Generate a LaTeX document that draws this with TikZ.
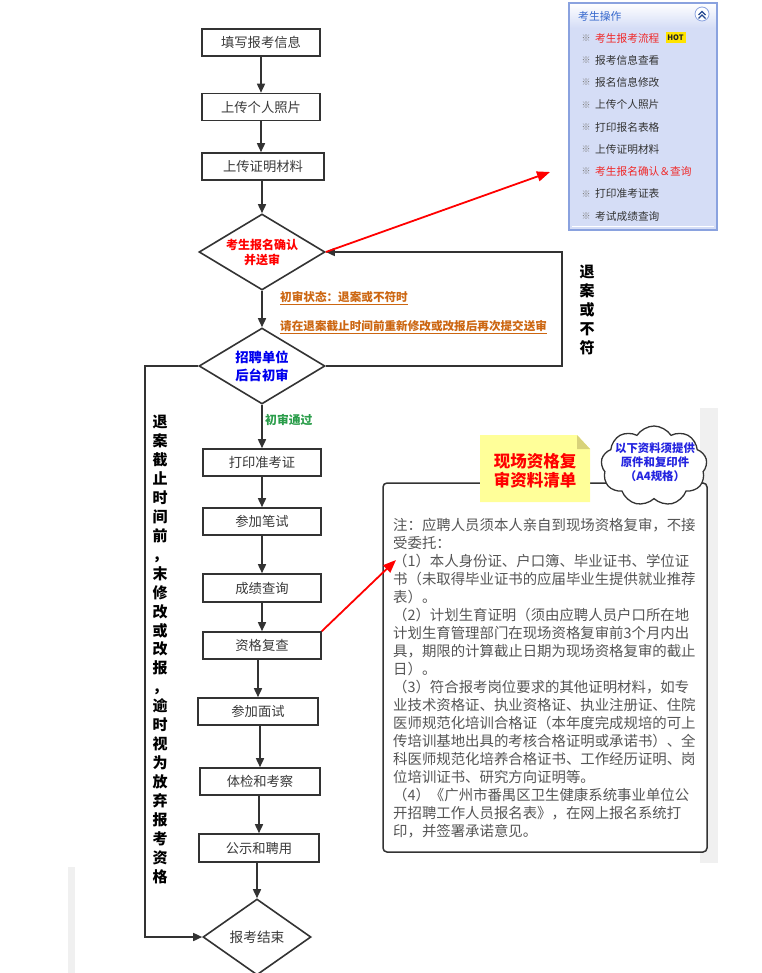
\documentclass[tikz,border=0pt]{standalone}
\usepackage{fontspec}
\setmainfont{Noto Sans CJK SC}
\usetikzlibrary{arrows.meta,shapes.geometric,shapes.symbols,calc}
\definecolor{lc}{HTML}{333333}
\definecolor{boxtxt}{HTML}{3A3A3A}
\definecolor{notetxt}{HTML}{555555}
\definecolor{orangelbl}{HTML}{CC6611}
\definecolor{greenlbl}{HTML}{2A9D4A}
\definecolor{bluelbl}{HTML}{0000EE}
\definecolor{cloudblue}{HTML}{2424E0}
\definecolor{panelbody}{HTML}{D5DDF6}
\definecolor{panelborder}{HTML}{8AA2DF}
\definecolor{panelhead}{HTML}{3366CC}
\definecolor{pred}{HTML}{F02828}
\definecolor{ptxt}{HTML}{333333}
\definecolor{stripgray}{HTML}{F0F0F0}
\definecolor{noteyellow}{HTML}{FFFF99}
\definecolor{notefold}{HTML}{D8D27A}
\definecolor{hotyellow}{HTML}{FFE400}
\begin{document}
\begin{tikzpicture}[x=1pt,y=-1pt,
  box/.style={draw=lc, line width=1.6pt, fill=white, minimum width=118pt, minimum height=27pt, inner sep=0pt, font=\fontsize{13.3}{16}\selectfont, text=boxtxt},
  dia/.style={draw=lc, line width=1.6pt, fill=white, diamond, aspect=1.66, inner sep=0pt, minimum width=126pt, minimum height=76pt, align=center},
  arr/.style={draw=lc, line width=1.6pt, -{Triangle[length=9pt,width=8pt]}},
  redarr/.style={draw=red, line width=1.8pt, -{Triangle[length=13pt,width=10pt]}},
  vtext/.style={align=center, inner sep=0pt, font=\fontsize{15}{18.96}\selectfont\bfseries, text=black},
  lbl/.style={anchor=west, inner sep=0pt, font=\fontsize{11.6}{14}\selectfont\bfseries},
  pitem/.style={anchor=west, inner sep=0pt, font=\fontsize{10.7}{13}\selectfont},
  pmark/.style={inner sep=0pt, font=\fontsize{9}{11}\selectfont, text=gray}
]
\useasboundingbox (0,0) rectangle (761,973);
\fill[white] (0,0) rectangle (761,973);

% gray strips
\fill[stripgray] (700,408) rectangle (718,863);
\fill[stripgray] (68,867) rectangle (75,973);

% ---------------- flow chart ----------------
\node[box] (b1) at (261,42.5) {填写报考信息};
\node[box] (b2) at (261,107) {上传个人照片};
\node[box, minimum width=122pt] (b3) at (263,166.5) {上传证明材料};
\node[dia, font=\fontsize{12}{15}\selectfont\bfseries, text=red] (d1) at (262,252) {考生报名确认\\并送审};
\node[dia, font=\fontsize{13.3}{18}\selectfont\bfseries, text=bluelbl] (d2) at (262,366) {招聘单位\\后台初审};
\node[box] (b4) at (262,462.5) {打印准考证};
\node[box] (b5) at (262,521.5) {参加笔试};
\node[box, minimum height=28pt] (b6) at (262,588) {成绩查询};
\node[box] (b7) at (262,645.5) {资格复查};
\node[box, minimum width=120pt] (b8) at (258,711.5) {参加面试};
\node[box, minimum width=120pt] (b9) at (260,781.5) {体检和考察};
\node[box, minimum width=120pt, minimum height=28pt] (b10) at (259,848) {公示和聘用};
\node[dia, minimum width=108pt, minimum height=76pt, aspect=1.42, font=\fontsize{13.7}{16}\selectfont, text=boxtxt] (d3) at (257,937) {报考结束};

\draw[arr] (b1.south) -- (b1.south |- b2.north);
\draw[arr] (b2.south) -- (b2.south |- b3.north);
\draw[arr] (b3.south -| d1.north) -- (d1.north);
\draw[arr] (d1.south) -- (d2.north);
\draw[arr] (d2.south) -- (b4.north);
\draw[arr] (b4.south) -- (b5.north);
\draw[arr] (b5.south) -- (b6.north);
\draw[arr] (b6.south) -- (b7.north);
\draw[arr] (b7.south -| b8.north) -- (b8.north);
\draw[arr] (b8.south -| b9.north) -- (b9.north);
\draw[arr] (b9.south -| b10.north) -- (b10.north);
\draw[arr] (b10.south -| d3.north) -- (d3.north);

% loops
\coordinate (rloop) at (562,366);
\draw[arr] (d2.east) -- (rloop) |- (d1.east);
\coordinate (lloop) at (145,366);
\draw[arr] (d2.west) -- (lloop) |- (d3.west);

% labels
\node[lbl, text=orangelbl] (s1) at (280,298) {\underline{初审状态：退案或不符时}};
\node[lbl, text=orangelbl] (s2) at (280,327) {\underline{请在退案截止时间前重新修改或改报后再次提交送审}};
\node[lbl, font=\fontsize{11.8}{14}\selectfont\bfseries, text=greenlbl] (s3) at (265,420) {初审通过};

\node[vtext] (vr) at (587,310) {退\\案\\或\\不\\符};
\node[vtext] (vl) at (160,649.5) {退\\案\\截\\止\\时\\间\\前\\，\\末\\修\\改\\或\\改\\报\\，\\逾\\时\\视\\为\\放\\弃\\报\\考\\资\\格};

% ---------------- panel ----------------
\fill[panelbody] (569,3) rectangle (717,230);
\shade[top color=white, bottom color=panelbody] (569,3) rectangle (717,28);
\draw[panelborder, line width=2pt] (569,3) rectangle (717,230);
\draw[white, line width=1pt] (572,226.5) -- (714,226.5);
\node[anchor=west, inner sep=0pt, font=\fontsize{10.8}{13}\selectfont, text=panelhead] (ph) at (578,16) {考生操作};
\node[circle, draw=panelborder, fill=white, minimum size=14pt, inner sep=0pt, line width=0.8pt] (pbtn) at (702,14) {};
\draw[panelhead!70!black, line width=1.2pt] ($(pbtn)+(-3.5,1)$) -- ($(pbtn)+(0,-2.5)$) -- ($(pbtn)+(3.5,1)$);
\draw[panelhead!70!black, line width=1.2pt] ($(pbtn)+(-3.5,4.5)$) -- ($(pbtn)+(0,1)$) -- ($(pbtn)+(3.5,4.5)$);
\foreach \t/\c [count=\i] in {考生报考流程/pred, 报考信息查看/ptxt, 报名信息修改/ptxt, 上传个人照片/ptxt, 打印报名表格/ptxt, 上传证明材料/ptxt, 考生报名确认＆查询/pred, 打印准考证表/ptxt, 考试成绩查询/ptxt}{
  \node[pmark] (mk\i) at (586,{38+(\i-1)*22.25}) {※};
  \node[pitem, text=\c] (item\i) at (595,{38+(\i-1)*22.25}) {\t};
}
\node[fill=hotyellow, inner sep=0pt, minimum width=20pt, minimum height=11pt, font=\fontsize{7.5}{8}\selectfont\bfseries, text=black!85] (hot) at (675.5,38) {HOT};
\coordinate (ptarget) at (550,172);
\draw[redarr] (d1.east) -- (ptarget);

% ---------------- notes box ----------------
\draw[lc, line width=1.5pt, fill=white, rounded corners=4pt] (383,483) rectangle (707,852);
\node[anchor=north west, inner sep=0pt, align=left, font=\fontsize{14.4}{18}\selectfont, text=notetxt] (notes) at (393,518) {注：应聘人员须本人亲自到现场资格复审，不接\\
受委托：\\
（1）本人身份证、户口簿、毕业证书、学位证\\
书（未取得毕业证书的应届毕业生提供就业推荐\\
表）。\\
（2）计划生育证明（须由应聘人员户口所在地\\
计划生育管理部门在现场资格复审前3个月内出\\
具，期限的计算截止日期为现场资格复审的截止\\
日）。\\
（3）符合报考岗位要求的其他证明材料，如专\\
业技术资格证、执业资格证、执业注册证、住院\\
医师规范化培训合格证（本年度完成规培的可上\\
传培训基地出具的考核合格证明或承诺书）、全\\
科医师规范化培养合格证书、工作经历证明、岗\\
位培训证书、研究方向证明等。\\
（4）《广州市番禺区卫生健康系统事业单位公\\
开招聘工作人员报名表》，在网上报名系统打\\
印，并签署承诺意见。};

% sticky note
\fill[noteyellow] (480,435) -- (577,435) -- (590,449) -- (590,502) -- (480,502) -- cycle;
\fill[notefold] (577,435) -- (590,449) -- (577,449) -- cycle;
\node[align=center, inner sep=0pt, font=\fontsize{16.5}{19}\selectfont\bfseries, text=red] (notetitle) at (535,471) {现场资格复\\审资料清单};

% cloud
\node[cloud, cloud puffs=9, cloud puff arc=115, cloud ignores aspect, draw=lc, line width=1.3pt, fill=white, minimum width=106pt, minimum height=80pt, inner sep=0pt] (cl) at (654,466) {};
\node[align=center, inner sep=0pt, font=\fontsize{11.4}{14}\selectfont\bfseries, text=cloudblue] (cltxt) at (655,462) {以下资料须提供\\原件和复印件\\（A4规格）};

\coordinate (ntarget) at (396,560);
\draw[redarr] (b7.north east) -- (ntarget);
\end{tikzpicture}
\end{document}
